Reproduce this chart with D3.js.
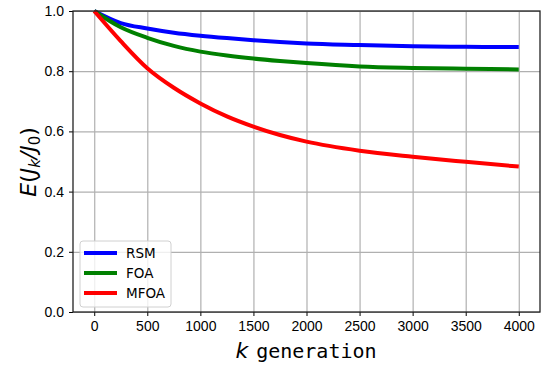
<!DOCTYPE html>
<html>
<head>
<meta charset="utf-8">
<script src="https://cdn.jsdelivr.net/npm/d3@7.9.0/dist/d3.min.js"></script>
<style>
  body { margin: 0; background: #fff; }
  svg { display: block; font-family: 'DejaVu Sans', sans-serif; }
  .tick text { font-size: 14px; fill: #000; }
</style>
</head>
<body>
<svg id="chart" width="550" height="368"></svg>
<script>
const generations = [0, 250, 500, 750, 1000, 1250, 1500, 1750, 2000, 2500, 3000, 3500, 4000];
const rsm  = [1.0, 0.960, 0.942, 0.928, 0.918, 0.910, 0.903, 0.897, 0.892, 0.887, 0.883, 0.881, 0.880];
const foa  = [1.0, 0.946, 0.911, 0.884, 0.865, 0.852, 0.842, 0.834, 0.827, 0.816, 0.811, 0.808, 0.806];
const mfoa = [1.0, 0.900, 0.810, 0.745, 0.693, 0.650, 0.616, 0.588, 0.566, 0.536, 0.516, 0.499, 0.483];

const xTicks = [0, 500, 1000, 1500, 2000, 2500, 3000, 3500, 4000];
const yTicks = [0.0, 0.2, 0.4, 0.6, 0.8, 1.0];

const series = [
  { name: 'RSM', values: rsm, color: '#0000ff' },
  { name: 'FOA', values: foa, color: '#008000' },
  { name: 'MFOA', values: mfoa, color: '#ff0000' },
];

const area = { left: 73, right: 540, top: 11, bottom: 312 };

const svg = d3.select('#chart');

const x = d3.scaleLinear().domain([-200, 4200]).range([area.left, area.right]);
const y = d3.scaleLinear().domain([0, 1]).range([area.bottom, area.top]);

// grid
svg.append('g')
  .attr('transform', `translate(0, ${area.bottom})`)
  .call(d3.axisBottom(x).tickValues(xTicks).tickFormat('').tickSize(-(area.bottom - area.top)))
  .call((g) => g.select('.domain').remove())
  .call((g) => g.selectAll('line').attr('stroke', '#b0b0b0').attr('stroke-width', 1.2));

svg.append('g')
  .attr('transform', `translate(${area.left}, 0)`)
  .call(d3.axisLeft(y).tickValues(yTicks).tickFormat('').tickSize(-(area.right - area.left)))
  .call((g) => g.select('.domain').remove())
  .call((g) => g.selectAll('line').attr('stroke', '#b0b0b0').attr('stroke-width', 1.2));

// lines
const line = d3.line()
  .x((d, i) => x(generations[i]))
  .y((d) => y(d))
  .curve(d3.curveMonotoneX);

svg.append('g')
  .selectAll('path')
  .data(series)
  .join('path')
  .attr('d', (d) => line(d.values))
  .attr('fill', 'none')
  .attr('stroke', (d) => d.color)
  .attr('stroke-width', 4);

// axes
svg.append('g')
  .attr('transform', `translate(0, ${area.bottom})`)
  .call(d3.axisBottom(x).tickValues(xTicks).tickFormat(d3.format('d')).tickSize(4).tickPadding(5))
  .call((g) => g.select('.domain').remove())
  .call((g) => g.selectAll('line').attr('stroke', '#000'));

svg.append('g')
  .attr('transform', `translate(${area.left}, 0)`)
  .call(d3.axisLeft(y).tickValues(yTicks).tickFormat(d3.format('.1f')).tickSize(4).tickPadding(5))
  .call((g) => g.select('.domain').remove())
  .call((g) => g.selectAll('line').attr('stroke', '#000'));

svg.append('rect')
  .attr('x', area.left)
  .attr('y', area.top)
  .attr('width', area.right - area.left)
  .attr('height', area.bottom - area.top)
  .attr('fill', 'none')
  .attr('stroke', '#222')
  .attr('stroke-width', 1.3);

// legend
const legend = svg.append('g').attr('transform', 'translate(80, 241)');
legend.append('rect')
  .attr('width', 91)
  .attr('height', 66)
  .attr('rx', 3)
  .attr('fill', 'rgba(255,255,255,0.8)')
  .attr('stroke', '#d0d0d0');

const items = legend.selectAll('g.item')
  .data(series)
  .join('g')
  .attr('class', 'item')
  .attr('transform', (d, i) => `translate(0, ${12 + i * 20})`);

items.append('line')
  .attr('x1', 4).attr('x2', 37)
  .attr('stroke', (d) => d.color)
  .attr('stroke-width', 4);

items.append('text')
  .attr('x', 46)
  .attr('dy', '0.35em')
  .attr('font-size', 13.5)
  .text((d) => d.name);

// axis labels
svg.append('text')
  .attr('x', 306)
  .attr('y', 358)
  .attr('text-anchor', 'middle')
  .attr('font-size', 20)
  .call((t) => {
    t.append('tspan').attr('font-style', 'italic').attr('font-size', 22).text('k');
    t.append('tspan').attr('font-family', 'DejaVu Sans Mono').attr('dx', 8).text('generation');
  });

svg.append('text')
  .attr('transform', 'translate(36, 162) rotate(-90)')
  .attr('text-anchor', 'middle')
  .attr('font-size', 22)
  .call((t) => {
    t.append('tspan').attr('font-style', 'italic').text('E');
    t.append('tspan').text('(');
    t.append('tspan').attr('font-style', 'italic').text('J');
    t.append('tspan').attr('font-style', 'italic').attr('font-size', 15).attr('dy', 4).text('k');
    t.append('tspan').attr('font-style', 'italic').attr('dy', -4).text('/J');
    t.append('tspan').attr('font-size', 15).attr('dy', 4).text('0');
    t.append('tspan').attr('dy', -4).text(')');
  });
</script>
</body>
</html>
